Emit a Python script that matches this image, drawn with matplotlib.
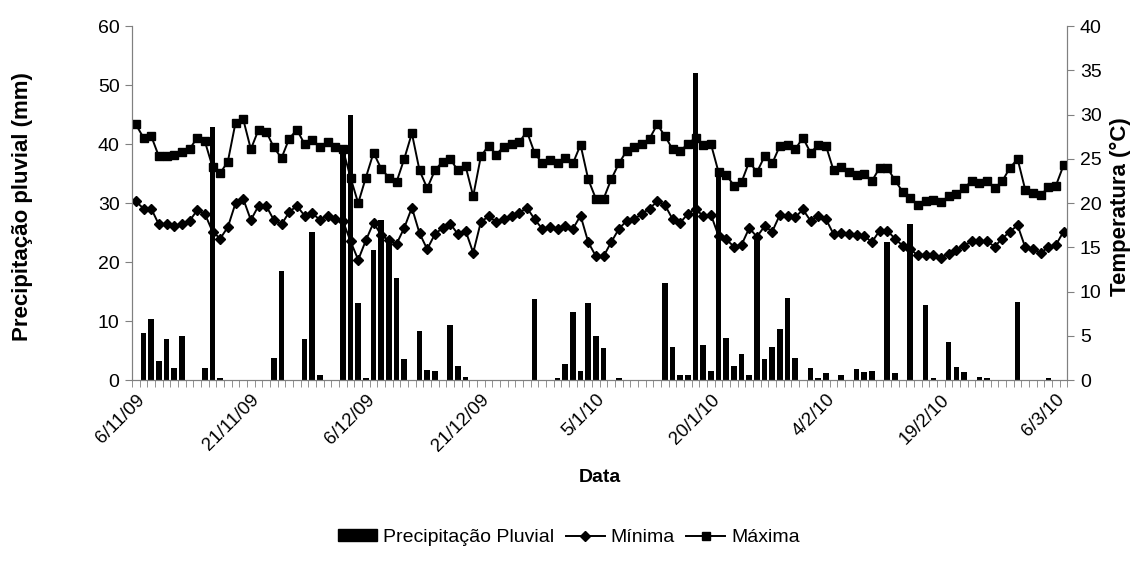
import numpy as np
import matplotlib.pyplot as plt
from matplotlib.lines import Line2D
from matplotlib.patches import Patch

# precipitação diária (mm), eixo da esquerda
chuva = [0, 8.0, 10.4, 3.3, 6.9, 2.1, 7.5, 0, 0, 2.1,
         42.9, 0.3, 0, 0, 0, 0, 0, 0, 3.8, 18.5,
         0, 0, 6.9, 25.1, 0.9, 0, 0, 39.1, 45.0, 13.1,
         0.3, 22.1, 27.1, 23.7, 17.3, 3.6, 0, 8.4, 1.8, 1.5,
         0, 9.3, 2.4, 0.6, 0, 0, 0, 0, 0, 0,
         0, 0, 13.7, 0, 0, 0.3, 2.7, 11.6, 1.5, 13.1,
         7.5, 5.4, 0, 0.3, 0, 0, 0, 0, 0, 16.4,
         5.6, 0.9, 0.9, 52.0, 6.0, 1.5, 35.3, 7.2, 2.4, 4.5,
         0.9, 24.3, 3.6, 5.6, 8.6, 14.0, 3.8, 0, 2.1, 0.3,
         1.2, 0, 0.9, 0, 1.9, 1.4, 1.6, 0, 23.5, 1.3,
         0, 26.5, 0, 12.7, 0.3, 0, 6.4, 2.3, 1.4, 0,
         0.6, 0.3, 0, 0, 0, 13.2, 0, 0, 0, 0.3,
         0, 0]

# temperatura mínima diária (°C), eixo da direita
t_min = [20.2, 19.4, 19.4, 17.6, 17.6, 17.4, 17.6, 18.0, 19.2, 18.8,
         16.8, 16.0, 17.3, 20.0, 20.5, 18.1, 19.7, 19.7, 18.1, 17.6,
         19.0, 19.7, 18.6, 18.9, 18.1, 18.6, 18.2, 18.0, 15.7, 13.6,
         15.8, 17.8, 16.4, 15.8, 15.4, 17.2, 19.5, 16.6, 14.8, 16.5,
         17.2, 17.7, 16.5, 16.9, 14.4, 17.9, 18.5, 17.9, 18.2, 18.6,
         18.9, 19.5, 18.2, 17.1, 17.3, 17.1, 17.4, 17.1, 18.6, 15.6,
         14.0, 14.0, 15.6, 17.1, 18.0, 18.2, 18.8, 19.4, 20.2, 19.8,
         18.2, 17.8, 18.8, 19.4, 18.5, 18.7, 16.3, 15.9, 15.1, 15.3,
         17.2, 16.2, 17.4, 16.8, 18.7, 18.6, 18.4, 19.3, 18.0, 18.6,
         18.2, 16.5, 16.6, 16.5, 16.4, 16.3, 15.6, 16.9, 16.9, 16.0,
         15.2, 14.8, 14.1, 14.2, 14.2, 13.8, 14.3, 14.7, 15.2, 15.7,
         15.7, 15.7, 15.1, 16.0, 16.8, 17.5, 15.0, 14.8, 14.4, 15.0,
         15.3, 16.8]

# temperatura máxima diária (°C), eixo da direita
t_max = [28.9, 27.4, 27.6, 25.3, 25.3, 25.5, 25.8, 26.1, 27.4, 27.0,
         24.1, 23.4, 24.7, 29.1, 29.5, 26.1, 28.3, 28.1, 26.3, 25.1,
         27.3, 28.3, 26.7, 27.1, 26.4, 26.9, 26.3, 26.1, 22.9, 20.0,
         22.9, 25.7, 23.9, 22.9, 22.4, 25.0, 27.9, 23.7, 21.7, 23.7,
         24.7, 25.0, 23.7, 24.2, 20.8, 25.3, 26.5, 25.5, 26.4, 26.7,
         26.9, 28.1, 25.7, 24.5, 24.9, 24.5, 25.1, 24.5, 26.6, 22.7,
         20.5, 20.5, 22.7, 24.5, 25.9, 26.3, 26.7, 27.3, 28.9, 27.6,
         26.1, 25.9, 26.7, 27.4, 26.6, 26.7, 23.5, 23.2, 22.0, 22.4,
         24.7, 23.5, 25.3, 24.5, 26.5, 26.6, 26.1, 27.4, 25.7, 26.6,
         26.5, 23.7, 24.1, 23.5, 23.2, 23.3, 22.5, 24.0, 24.0, 22.6,
         21.3, 20.6, 19.8, 20.3, 20.4, 20.1, 20.8, 21.0, 21.7, 22.5,
         22.3, 22.5, 21.7, 22.5, 24.0, 25.0, 21.5, 21.2, 20.9, 21.8,
         22.0, 24.3]

rotulos = ['6/11/09', '21/11/09', '6/12/09', '21/12/09', '5/1/10',
           '20/1/10', '4/2/10', '19/2/10', '6/3/10']
passo_rotulo = 15

plt.rcParams['font.family'] = ['Liberation Sans', 'DejaVu Sans']
cinza = '#808080'

fig = plt.figure(figsize=(11.38, 5.70), dpi=100)
ax = fig.add_axes([0.116, 0.333, 0.822, 0.621])
x = np.arange(len(chuva))

ax.bar(x, chuva, width=0.72, color='black', zorder=2)
ax.set_xlim(-0.5, len(chuva) - 0.5)
ax.set_ylim(0, 60)
ax.set_yticks(range(0, 61, 10))
ax.tick_params(axis='y', labelsize=14, length=5, color=cinza, pad=4)

# rótulos de data a cada 15 dias, marcas entre categorias
ax.set_xticks(x[::passo_rotulo][:len(rotulos)])
ax.set_xticklabels(rotulos, rotation=45, ha='right', rotation_mode='anchor')
ax.tick_params(axis='x', which='major', length=0, labelsize=13.5, pad=8)
ax.set_xticks(np.arange(len(chuva) + 1) - 0.5, minor=True)
ax.tick_params(axis='x', which='minor', length=5, color=cinza)

ax2 = ax.twinx()
ax2.plot(x, t_min, color='black', lw=1.4, marker='D', ms=5)
ax2.plot(x, t_max, color='black', lw=1.4, marker='s', ms=5.5)
ax2.set_ylim(0, 40)
ax2.set_yticks(range(0, 41, 5))
ax2.tick_params(axis='y', labelsize=14, length=5, color=cinza, pad=4)

for a in (ax, ax2):
    a.spines['top'].set_visible(False)
    for s in ('left', 'right', 'bottom'):
        a.spines[s].set_color(cinza)

ax.set_ylabel('Precipitação pluvial (mm)', fontsize=16, fontweight='bold')
ax.yaxis.set_label_coords(-0.106, 0.49)
ax2.set_ylabel('Temperatura (°C)', fontsize=16, fontweight='bold')
ax2.yaxis.set_label_coords(1.045, 0.49)
ax.set_xlabel('Data', fontsize=14, fontweight='bold', labelpad=10)

handles = [Patch(facecolor='black', edgecolor='black'),
           Line2D([], [], color='black', lw=1.4, marker='D', ms=5),
           Line2D([], [], color='black', lw=1.4, marker='s', ms=5.5)]
fig.legend(handles, ['Precipitação Pluvial', 'Mínima', 'Máxima'],
           loc='center', bbox_to_anchor=(0.5, 0.057), ncol=3, frameon=False,
           fontsize=14, handlelength=2.0, handleheight=0.6,
           columnspacing=0.6, handletextpad=0.3)

fig.savefig('out.png', dpi=100)
